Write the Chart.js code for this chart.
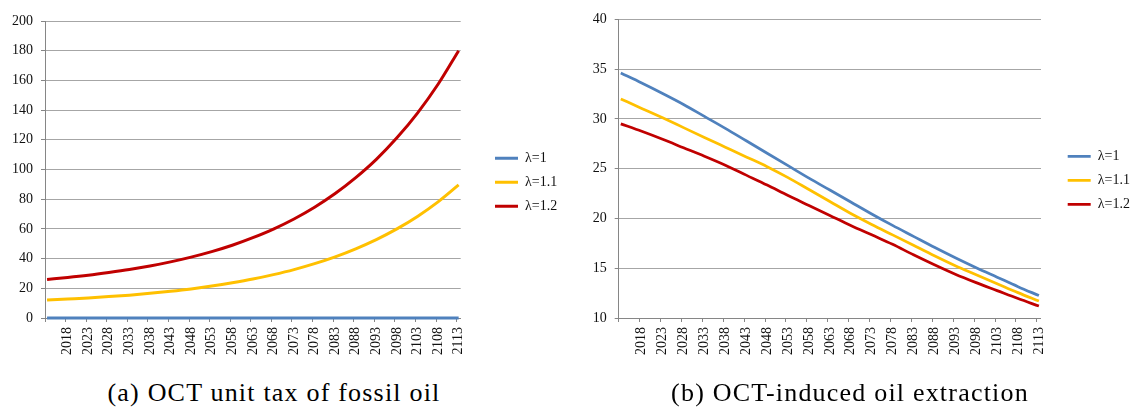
<!DOCTYPE html>
<html>
<head>
<meta charset="utf-8">
<script src="https://cdn.jsdelivr.net/npm/chart.js@4.4.0/dist/chart.umd.min.js"></script>
<style>
    html, body { margin: 0; padding: 0; background: #fff; overflow: hidden; }
    body { width: 1131px; height: 409px; position: relative; }
    canvas { position: absolute; top: 0; }
    #chartTax { left: 0; }
    #chartOil { left: 570px; }
    .caption {
        position: absolute; top: 380px;
        font-family: "Liberation Serif", serif; font-size: 26px; line-height: 26px;
        letter-spacing: 1.2px; text-align: center; color: #000; white-space: nowrap;
    }
    #capTax { left: 0; width: 548px; }
    #capOil { left: 569px; width: 562px; }
    .warm { position: absolute; left: -500px; top: 0; font-family: "Liberation Serif"; font-size: 14px; }
</style>
</head>
<body>
<canvas id="chartTax" width="590" height="365"></canvas>
<canvas id="chartOil" width="590" height="365"></canvas>
<div class="caption" id="capTax">(a) OCT unit tax of fossil oil</div>
<div class="caption" id="capOil">(b) OCT-induced oil extraction</div>
<div class="warm">λ=1.2 2018</div>
<script>
(function () {
    "use strict";

    // ============================
    // Data (every 5 years)
    // ============================
    const firstYear = 2013;
    const lastYear = 2113;
    const sampleYears = [2013, 2018, 2023, 2028, 2033, 2038, 2043, 2048, 2053, 2058, 2063,
        2068, 2073, 2078, 2083, 2088, 2093, 2098, 2103, 2108, 2113];
    const shownYears = [2018, 2023, 2028, 2033, 2038, 2043, 2048, 2053, 2058, 2063, 2068,
        2073, 2078, 2083, 2088, 2093, 2098, 2103, 2108, 2113];
    const seriesNames = ["λ=1", "λ=1.1", "λ=1.2"];

    // (a) OCT unit tax
    const taxLambda1 = [0, 0, 0, 0, 0, 0, 0, 0, 0, 0, 0, 0, 0, 0, 0, 0, 0, 0, 0, 0, 0];
    const taxLambda11 = [12.1, 12.8, 13.5, 14.4, 15.4, 16.6, 18.0, 19.6, 21.5, 23.7, 26.2,
        29.2, 32.6, 36.6, 41.2, 46.6, 52.8, 60.0, 68.4, 78.2, 89.6];
    const taxLambda12 = [26.0, 27.3, 28.8, 30.6, 32.6, 35.0, 37.8, 41.0, 44.7, 49.0, 54.1,
        59.9, 66.7, 74.6, 83.8, 94.5, 106.8, 121.3, 138.0, 157.4, 180.0];
    const taxYTicks = [0, 20, 40, 60, 80, 100, 120, 140, 160, 180, 200];

    // (b) oil extraction
    const oilLambda1 = [34.6, 33.6, 32.55, 31.45, 30.25, 29.05, 27.8, 26.55, 25.3, 24.05, 22.85,
        21.65, 20.45, 19.3, 18.2, 17.1, 16.05, 15.05, 14.1, 13.15, 12.25];
    const oilLambda11 = [32.0, 31.05, 30.1, 29.12, 28.14, 27.16, 26.18, 25.2, 24.1, 22.9, 21.7,
        20.5, 19.4, 18.35, 17.3, 16.25, 15.25, 14.35, 13.45, 12.55, 11.7];
    const oilLambda12 = [29.5, 28.75, 27.95, 27.1, 26.25, 25.35, 24.35, 23.35, 22.3, 21.3, 20.3,
        19.3, 18.35, 17.4, 16.35, 15.35, 14.4, 13.55, 12.75, 11.95, 11.2];
    const oilYTicks = [10, 15, 20, 25, 30, 35, 40];

    // Styles
    const COLORS = ["#4F81BD", "#FFC000", "#C00000"];
    const GRID = "#a6a6a6";
    const AXIS = "#868686";
    const TEXT = "#111";
    const FONT = "Liberation Serif";
    const TICK_SIZE = 14;
    const LEGEND_SIZE = 14;
    const LEGEND_LINE = 23;
    const LEGEND_PAD = 10;

    // every year is a category, labels shown every 5 years
    const yearLabels = [];
    for (let y = firstYear; y <= lastYear; y++) yearLabels.push(String(y));

    function toPoints(values) {
        return sampleYears.map((y, i) => ({ x: String(y), y: values[i] }));
    }

    function legendWidth() {
        const ctx = document.createElement("canvas").getContext("2d");
        ctx.font = LEGEND_SIZE + "px " + FONT;
        const textW = Math.max(...seriesNames.map((n) => ctx.measureText(n).width));
        return LEGEND_PAD + LEGEND_LINE + LEGEND_SIZE / 2 + textW + 10;
    }

    // an invisible scale, only used to reserve space in the layout
    function spacer(position, size) {
        return {
            type: "linear",
            position,
            display: true,
            grid: { display: false },
            border: { display: false },
            ticks: { display: false },
            afterFit: (s) => {
                if (s.isHorizontal()) s.height = size;
                else s.width = size;
            },
        };
    }

    function makeChart(canvasId, series, yTicks, lineWidth, g) {
        const canvas = document.getElementById(canvasId);
        const padRight = canvas.width - g.legendLeft - legendWidth();

        return new Chart(canvas, {
            type: "line",
            data: {
                labels: yearLabels,
                datasets: series.map((vals, i) => ({
                    label: seriesNames[i],
                    data: toPoints(vals),
                    borderColor: COLORS[i],
                    backgroundColor: COLORS[i],
                    borderWidth: lineWidth,
                    pointBorderWidth: lineWidth,
                    pointBorderColor: COLORS[i],
                    pointRadius: 0,
                    fill: false,
                    clip: false,
                    cubicInterpolationMode: "monotone",
                })),
            },
            options: {
                responsive: false,
                animation: false,
                layout: { padding: { top: g.padTop, bottom: g.padBottom, left: 0, right: padRight } },
                plugins: {
                    legend: {
                        position: "right",
                        align: "center",
                        labels: {
                            usePointStyle: true,
                            pointStyle: "line",
                            pointStyleWidth: LEGEND_LINE,
                            padding: LEGEND_PAD,
                            color: TEXT,
                            font: { family: FONT, size: LEGEND_SIZE },
                        },
                    },
                    tooltip: { enabled: false },
                },
                scales: {
                    x: {
                        type: "category",
                        offset: true,
                        grid: {
                            offset: true,
                            drawOnChartArea: false,
                            drawTicks: true,
                            tickLength: 4,
                            tickColor: (ctx) => (ctx.index % 5 === 0 ? AXIS : "rgba(0,0,0,0)"),
                        },
                        border: { color: AXIS, width: 1 },
                        ticks: {
                            autoSkip: false,
                            minRotation: 90,
                            maxRotation: 90,
                            padding: 5,
                            color: TEXT,
                            font: { family: FONT, size: TICK_SIZE },
                            callback: function (value) {
                                const label = this.getLabelForValue(value);
                                return shownYears.includes(Number(label)) ? label : "";
                            },
                        },
                        afterFit: (s) => { s.height = g.xAxisHeight; },
                    },
                    y: {
                        min: yTicks[0],
                        max: yTicks[yTicks.length - 1],
                        grid: { color: GRID, tickLength: 4, tickColor: AXIS },
                        border: { color: AXIS, width: 1 },
                        ticks: {
                            stepSize: yTicks[1] - yTicks[0],
                            padding: 8,
                            color: TEXT,
                            font: { family: FONT, size: TICK_SIZE },
                        },
                        afterFit: (s) => { s.width = g.yAxisWidth; },
                    },
                    gapTop: spacer("top", g.topGap),
                    gapRight: spacer("right", g.gap),
                },
            },
        });
    }

    // ============================
    // INIT
    // ============================
    function initCharts() {
        makeChart("chartTax", [taxLambda1, taxLambda11, taxLambda12], taxYTicks, 3, {
            padTop: 6.6, topGap: 14.4, padBottom: 7, xAxisHeight: 40,
            yAxisWidth: 45, gap: 24.3, legendLeft: 485,
        });
        makeChart("chartOil", [oilLambda1, oilLambda11, oilLambda12], oilYTicks, 2.75, {
            padTop: 2.6, topGap: 16.7, padBottom: 7, xAxisHeight: 40,
            yAxisWidth: 48.7, gap: 16.7, legendLeft: 487.7,
        });
    }

    if (document.fonts && document.fonts.load) {
        document.fonts.load(TICK_SIZE + "px '" + FONT + "'", "λ=1.2 2018").then(initCharts, initCharts);
    } else {
        initCharts();
    }
})();
</script>
</body>
</html>
